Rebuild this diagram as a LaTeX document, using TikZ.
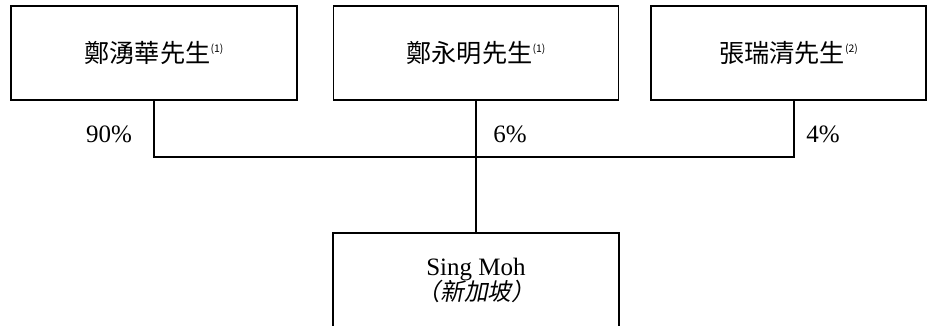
\documentclass[tikz,border=0pt]{standalone}
\usepackage{fontspec}
\setmainfont{Liberation Serif}
\newfontfamily\cjk{Noto Sans CJK TC}[Scale=0.95]
\newfontfamily\cjkit{Noto Sans CJK TC}[Scale=0.95,FakeSlant=0.2]
\newcommand{\fn}[1]{\raisebox{0.75ex}{\fontsize{11}{11}\selectfont(#1)}}
\begin{document}
\begin{tikzpicture}[x=1pt,y=-1pt,
	owner/.style={draw, line width=1.8pt, minimum height=94pt, inner sep=0pt},
	pct/.style={font=\fontsize{25}{28}\selectfont}]
	\useasboundingbox (0,0) rectangle (927,326);
	\node[owner, minimum width=286pt] (zheng) at (154,53) {\fontsize{26.5}{28}\selectfont\cjk 鄭湧華先生\fn{1}};
	\node[owner, minimum width=285pt] (yong) at (476,53) {\fontsize{26.5}{28}\selectfont\cjk 鄭永明先生\fn{1}};
	\node[owner, minimum width=275pt] (zhang) at (788.5,53) {\fontsize{26.5}{28}\selectfont\cjk 張瑞清先生\fn{2}};
	\node[owner, minimum width=286pt, align=center, font=\fontsize{25}{27}\selectfont] (singmoh) at (476,280)
		{Sing Moh\\[-2pt] {\cjkit （新加坡）}};

	\coordinate (hub) at (476,157);
	\draw[line width=1.8pt] (zheng.south) |- (hub);
	\draw[line width=1.8pt] ([xshift=5.5pt]zhang.south) |- (hub);
	\draw[line width=1.8pt] (yong.south) -- (singmoh.north);

	\node[pct] (p90) at (109,134) {90\%};
	\node[pct] (p6) at (510,134) {6\%};
	\node[pct] (p4) at (823,134) {4\%};
\end{tikzpicture}
\end{document}
